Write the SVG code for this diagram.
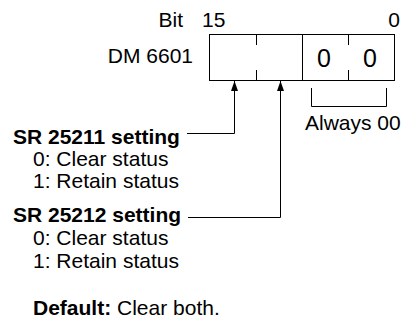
<svg xmlns="http://www.w3.org/2000/svg" width="401" height="321" viewBox="0 0 401 321">
<style>
text{font-family:"Liberation Sans",Arial,sans-serif;font-size:21px;fill:#000}
.b{font-weight:bold}
.big{font-size:25px}
.ln{stroke:#000;stroke-width:1;fill:none}
</style>
<defs>
<marker id="ah" markerWidth="10" markerHeight="7" refX="10" refY="3.5" orient="auto" markerUnits="userSpaceOnUse" viewBox="0 0 10 7">
<path d="M0,0 L10,3.5 L0,7 Z" fill="#000"/>
</marker>
</defs>
<rect width="401" height="321" fill="#fff"/>
<g id="labels">
<text x="183" y="27" text-anchor="end">Bit</text>
<text x="202" y="27">15</text>
<text x="400" y="27" text-anchor="end">0</text>
<text x="193" y="63" text-anchor="end">DM 6601</text>
</g>
<g id="register">
<rect x="209.5" y="34.5" width="185" height="46" class="ln"/>
<line x1="302.5" y1="34.5" x2="302.5" y2="80.5" class="ln"/>
<line x1="256.5" y1="34.5" x2="256.5" y2="45" class="ln"/>
<line x1="256.5" y1="70" x2="256.5" y2="80.5" class="ln"/>
<line x1="348.5" y1="34.5" x2="348.5" y2="45" class="ln"/>
<line x1="348.5" y1="70" x2="348.5" y2="80.5" class="ln"/>
<text x="324" y="67" text-anchor="middle" class="big">0</text>
<text x="370" y="67" text-anchor="middle" class="big">0</text>
</g>
<g id="always">
<path d="M311.5,88 V106.5 H386.5 V88" class="ln"/>
<text x="305" y="130">Always 00</text>
</g>
<g id="sr25211">
<text x="13" y="144" class="b">SR 25211 setting</text>
<text x="33" y="166">0: Clear status</text>
<text x="33" y="188">1: Retain status</text>
</g>
<g id="sr25212">
<text x="13" y="222" class="b">SR 25212 setting</text>
<text x="33" y="245">0: Clear status</text>
<text x="33" y="268">1: Retain status</text>
</g>
<g id="default">
<text x="33" y="315"><tspan class="b">Default:</tspan> Clear both.</text>
</g>
<g id="connectors">
<path d="M187,133.5 H234.5 V81" class="ln" marker-end="url(#ah)"/>
<path d="M188,217.5 H280.5 V81" class="ln" marker-end="url(#ah)"/>
</g>
</svg>
